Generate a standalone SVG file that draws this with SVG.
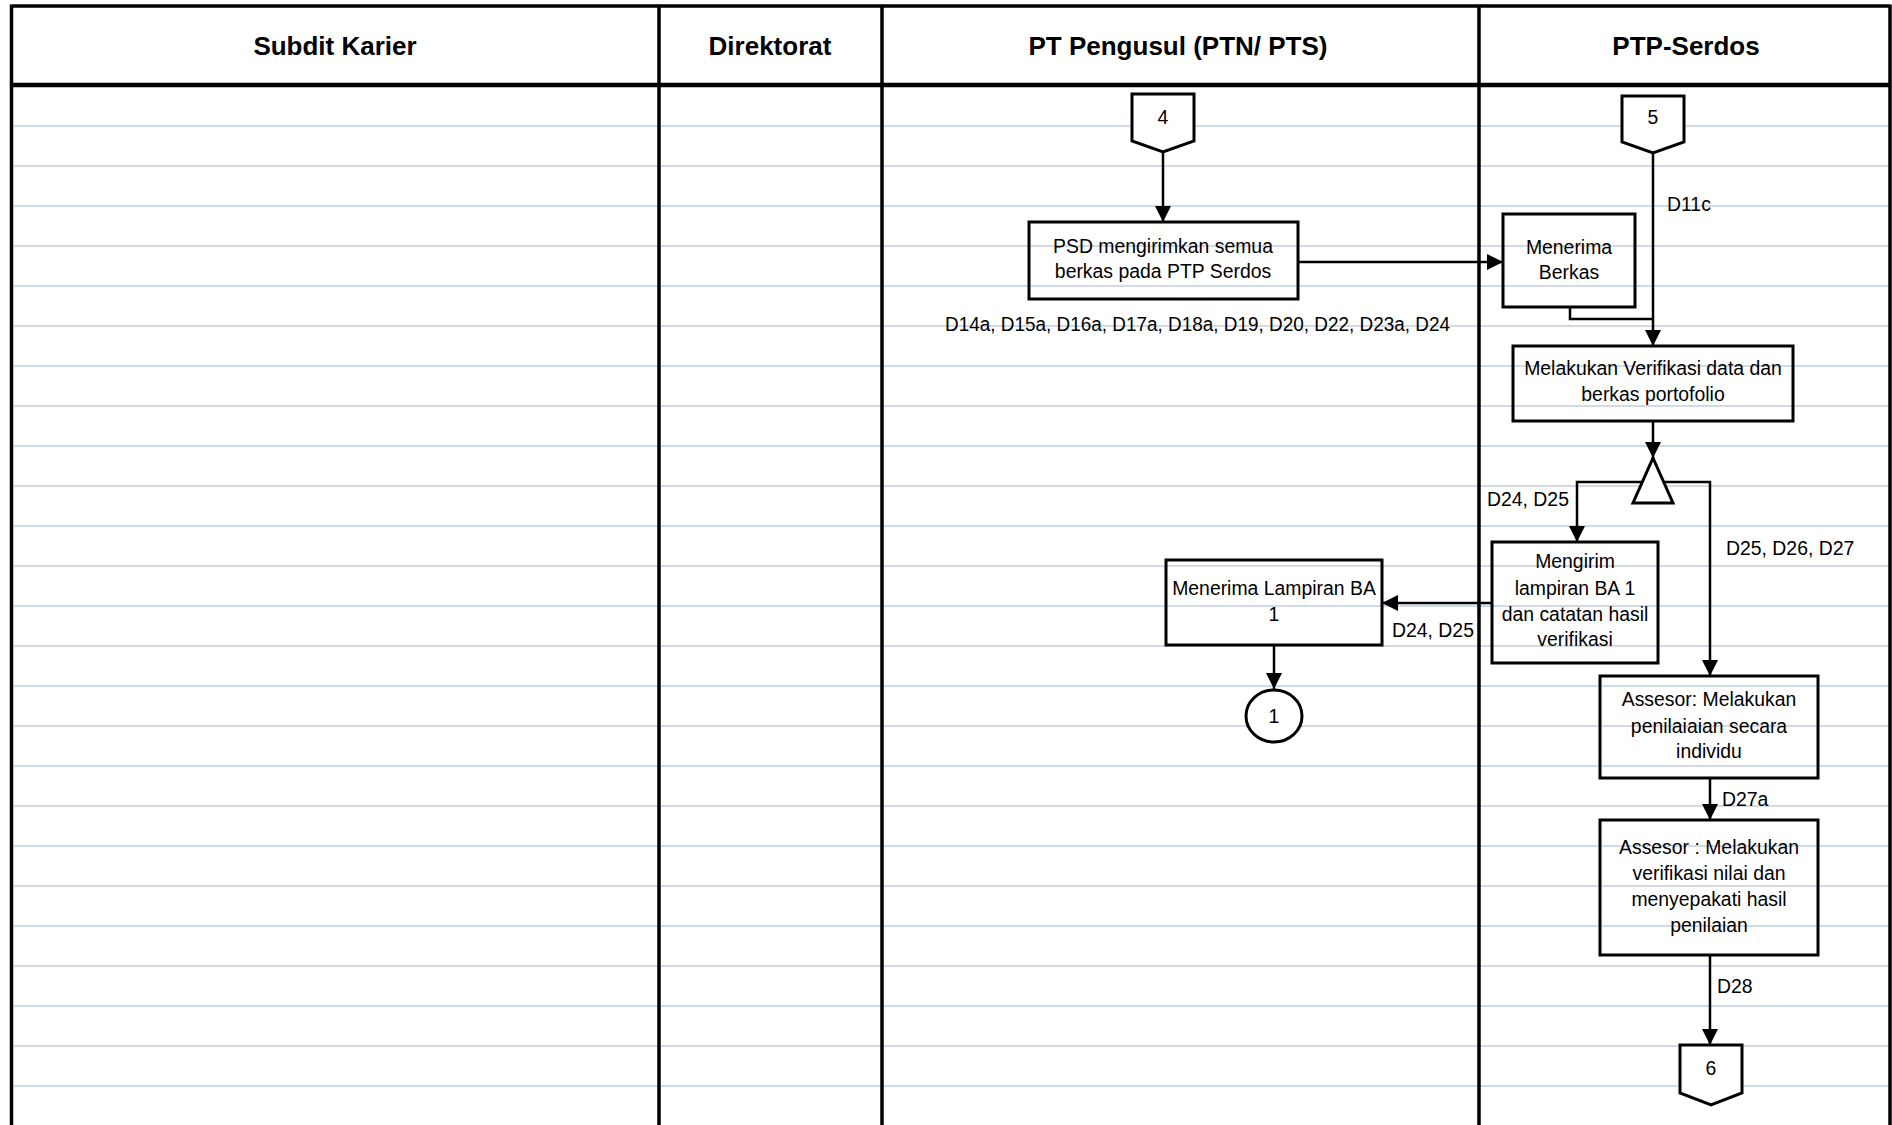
<svg xmlns="http://www.w3.org/2000/svg" width="1892" height="1125" viewBox="0 0 1892 1125">
<defs>
<style>
.grid{stroke:#d2dae6;stroke-width:2.2}
.lane{stroke:#000;stroke-width:3.5;fill:none}
.box{fill:none;stroke:#000;stroke-width:3}
.sym{fill:#fff;stroke:#000;stroke-width:3}
.conn{fill:none;stroke:#000;stroke-width:2.5}
.arr{marker-end:url(#ah)}
.t{font-family:"Liberation Sans",Arial,sans-serif;font-size:19.4px;fill:#000}
.c{text-anchor:middle}
.h{font-family:"Liberation Sans",Arial,sans-serif;font-size:26px;font-weight:bold;text-anchor:middle;fill:#000}
</style>
<marker id="ah" markerUnits="userSpaceOnUse" markerWidth="16" markerHeight="16" refX="16" refY="8" orient="auto">
<path d="M0,0 L16,8 L0,16 Z" fill="#000"/>
</marker>
</defs>
<rect x="0" y="0" width="1892" height="1125" fill="#fff"/>
<g id="grid">
<path class="grid" d="M12,126H1890M12,166H1890M12,206H1890M12,246H1890M12,286H1890M12,326H1890M12,366H1890M12,406H1890M12,446H1890M12,486H1890M12,526H1890M12,566H1890M12,606H1890M12,646H1890M12,686H1890M12,726H1890M12,766H1890M12,806H1890M12,846H1890M12,886H1890M12,926H1890M12,966H1890M12,1006H1890M12,1046H1890M12,1086H1890"/>
</g>
<g id="lanes">
<path class="lane" d="M11.5,6H1890M11.5,4.5V1125M1890,4.5V1125M659,6V1125M882,6V1125M1479,6V1125"/>
<path class="lane" style="stroke-width:4.5" d="M10,85H1891"/>
<text class="h" x="335" y="55">Subdit Karier</text>
<text class="h" x="770" y="55">Direktorat</text>
<text class="h" x="1178" y="55">PT Pengusul (PTN/ PTS)</text>
<text class="h" x="1686" y="55">PTP-Serdos</text>
</g>
<g id="connectors">
<path class="conn arr" d="M1163,152V222"/>
<path class="conn arr" d="M1298,262H1503"/>
<path class="conn arr" d="M1653,153V346"/>
<path class="conn" d="M1570,307V319H1653"/>
<path class="conn arr" d="M1653,421V458"/>
<path class="conn arr" d="M1642,482H1577V542"/>
<path class="conn arr" d="M1664,482H1710V676"/>
<path class="conn arr" d="M1492,603H1382"/>
<path class="conn arr" d="M1274,645V689"/>
<path class="conn arr" d="M1710,778V820"/>
<path class="conn arr" d="M1710,955V1045"/>
<text class="t" x="945" y="331" textLength="505" lengthAdjust="spacingAndGlyphs">D14a, D15a, D16a, D17a, D18a, D19, D20, D22, D23a, D24</text>
<text class="t" x="1667" y="211">D11c</text>
<text class="t" x="1487" y="506">D24, D25</text>
<text class="t" x="1726" y="555">D25, D26, D27</text>
<text class="t" x="1392" y="637">D24, D25</text>
<text class="t" x="1722" y="806">D27a</text>
<text class="t" x="1717" y="993">D28</text>
</g>
<g id="off4">
<path class="sym" d="M1132,94H1194V141L1163,152L1132,141Z"/>
<text class="t c" x="1163" y="124">4</text>
</g>
<g id="psd">
<rect class="box" x="1029" y="222" width="269" height="77"/>
<text class="t c" x="1163" y="253">PSD mengirimkan semua</text>
<text class="t c" x="1163" y="278">berkas pada PTP Serdos</text>
</g>
<g id="off5">
<path class="sym" d="M1622,96H1684V142L1653,153L1622,142Z"/>
<text class="t c" x="1653" y="124">5</text>
</g>
<g id="terima-berkas">
<rect class="box" x="1503" y="214" width="132" height="93"/>
<text class="t c" x="1569" y="254">Menerima</text>
<text class="t c" x="1569" y="279">Berkas</text>
</g>
<g id="verifikasi">
<rect class="box" x="1513" y="346" width="280" height="75"/>
<text class="t c" x="1653" y="375">Melakukan Verifikasi data dan</text>
<text class="t c" x="1653" y="401">berkas portofolio</text>
</g>
<g id="decision">
<path class="sym" d="M1653,458L1673,503H1633Z"/>
</g>
<g id="mengirim">
<rect class="box" x="1492" y="542" width="166" height="121"/>
<text class="t c" x="1575" y="568">Mengirim</text>
<text class="t c" x="1575" y="595">lampiran BA 1</text>
<text class="t c" x="1575" y="621">dan catatan hasil</text>
<text class="t c" x="1575" y="646">verifikasi</text>
</g>
<g id="terima-lampiran">
<rect class="box" x="1166" y="560" width="216" height="85"/>
<text class="t c" x="1274" y="595">Menerima Lampiran BA</text>
<text class="t c" x="1274" y="621">1</text>
</g>
<g id="conn1">
<ellipse class="sym" cx="1274" cy="716" rx="28" ry="26"/>
<text class="t c" x="1274" y="723">1</text>
</g>
<g id="assesor1">
<rect class="box" x="1600" y="676" width="218" height="102"/>
<text class="t c" x="1709" y="706">Assesor: Melakukan</text>
<text class="t c" x="1709" y="733">penilaiaian secara</text>
<text class="t c" x="1709" y="758">individu</text>
</g>
<g id="assesor2">
<rect class="box" x="1600" y="820" width="218" height="135"/>
<text class="t c" x="1709" y="854">Assesor : Melakukan</text>
<text class="t c" x="1709" y="880">verifikasi nilai dan</text>
<text class="t c" x="1709" y="906">menyepakati hasil</text>
<text class="t c" x="1709" y="932">penilaian</text>
</g>
<g id="off6">
<path class="sym" d="M1680,1045H1742V1093L1711,1105L1680,1093Z"/>
<text class="t c" x="1711" y="1075">6</text>
</g>
</svg>
